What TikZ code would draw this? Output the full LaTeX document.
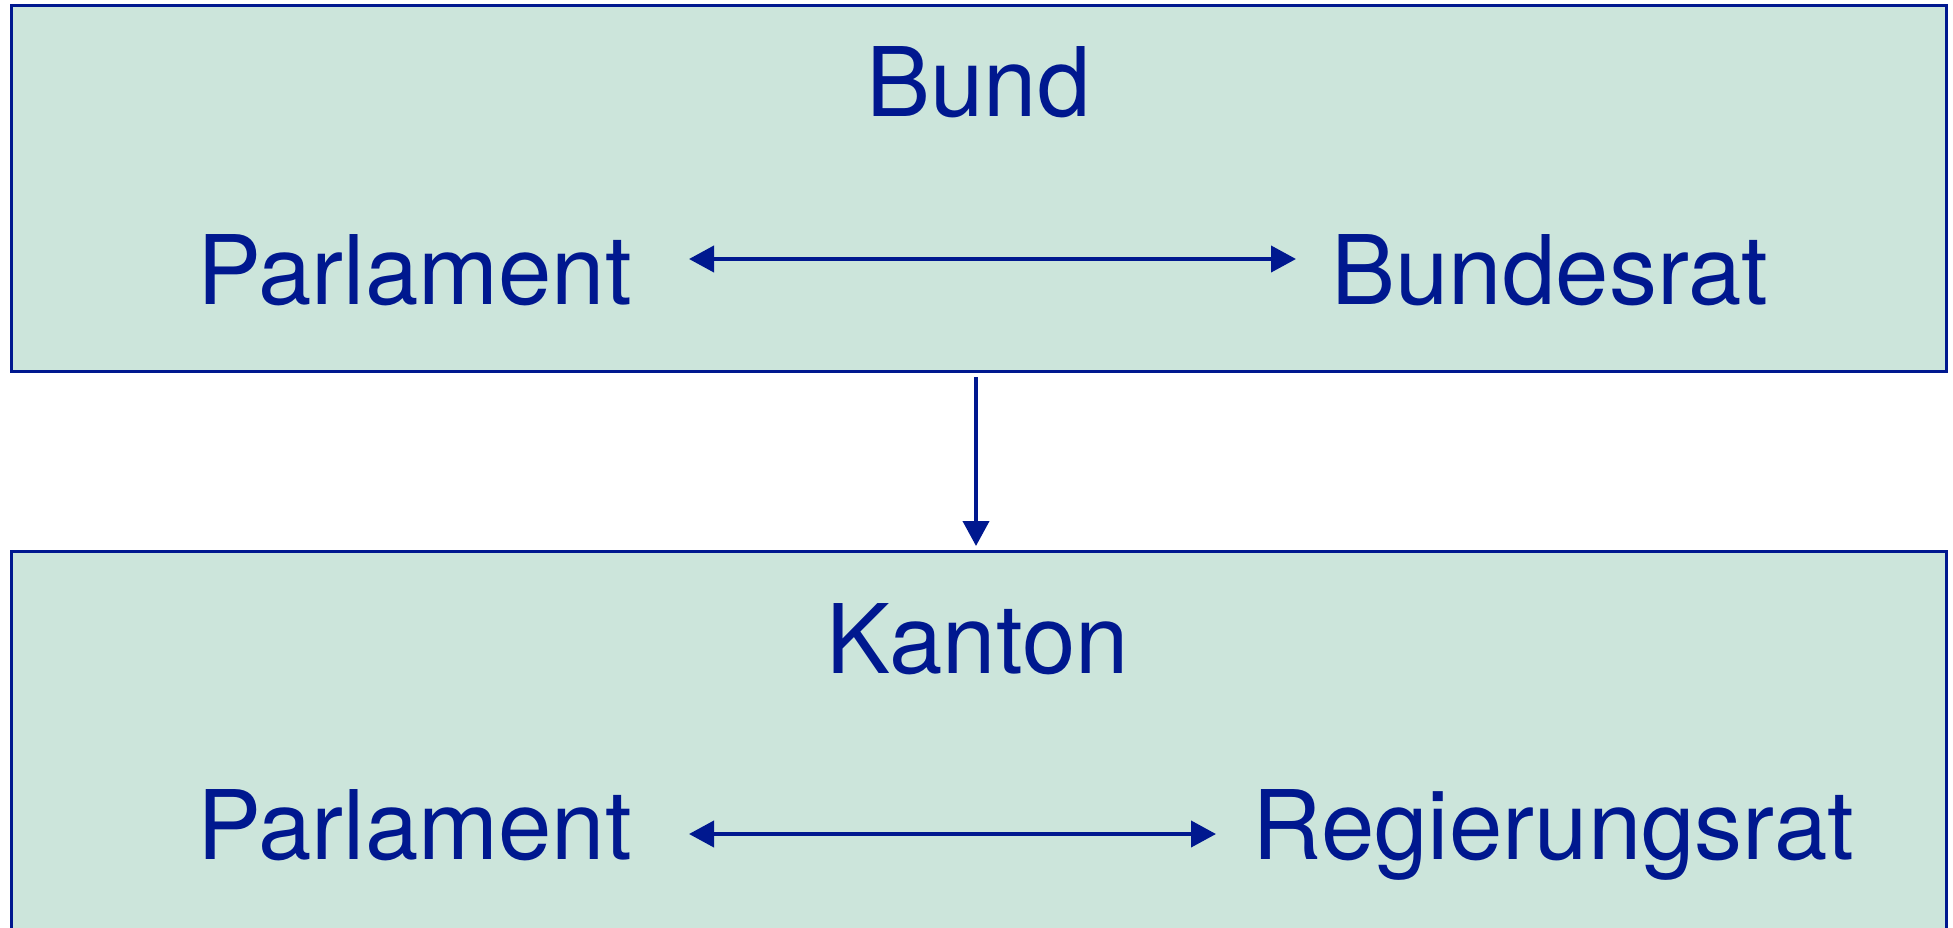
\documentclass[tikz,border=0pt]{standalone}
\usepackage{fontspec}
\setmainfont{TeX Gyre Heros}
\usetikzlibrary{arrows.meta}
\definecolor{ink}{RGB}{0,24,143}
\definecolor{boxfill}{RGB}{204,229,219}
\tikzset{
  panel/.style={draw=ink, fill=boxfill, line width=1.5pt},
  lbl/.style={text=ink, font=\fontsize{48}{56}\selectfont, inner sep=0pt, anchor=base},
  link/.style={draw=ink, line width=2pt, {Triangle[length=12.5pt,width=13pt]}-{Triangle[length=12.5pt,width=13pt]}},
  down/.style={draw=ink, line width=2pt, -{Triangle[length=12.5pt,width=13pt]}}
}
\begin{document}
\begin{tikzpicture}[x=0.5pt,y=-0.5pt]
\useasboundingbox (0,0) rectangle (1953,927);
\clip (0,0) rectangle (1953,927);
\path[panel] (11,5) rectangle (1946,371.5);
\path[panel] (11,551.5) rectangle (1946,960);
\node[lbl] (bund) at (978.5,116) {Bund};
\node[lbl] (p1) at (414.5,304) {Parlament};
\node[lbl] (br) at (1550,304) {Bundesrat};
\node[lbl] (kanton) at (977.5,673) {Kanton};
\node[lbl] (p2) at (414.5,859) {Parlament};
\node[lbl] (rr) at (1553.5,859) {Regierungsrat};
\coordinate (a1) at (689,259);
\coordinate (a2) at (1296,259);
\coordinate (v1) at (976,377);
\coordinate (v2) at (976,546);
\coordinate (b1) at (689,834);
\coordinate (b2) at (1216,834);
\draw[link] (a1) -- (a2);
\draw[down] (v1) -- (v2);
\draw[link] (b1) -- (b2);
\end{tikzpicture}
\end{document}
